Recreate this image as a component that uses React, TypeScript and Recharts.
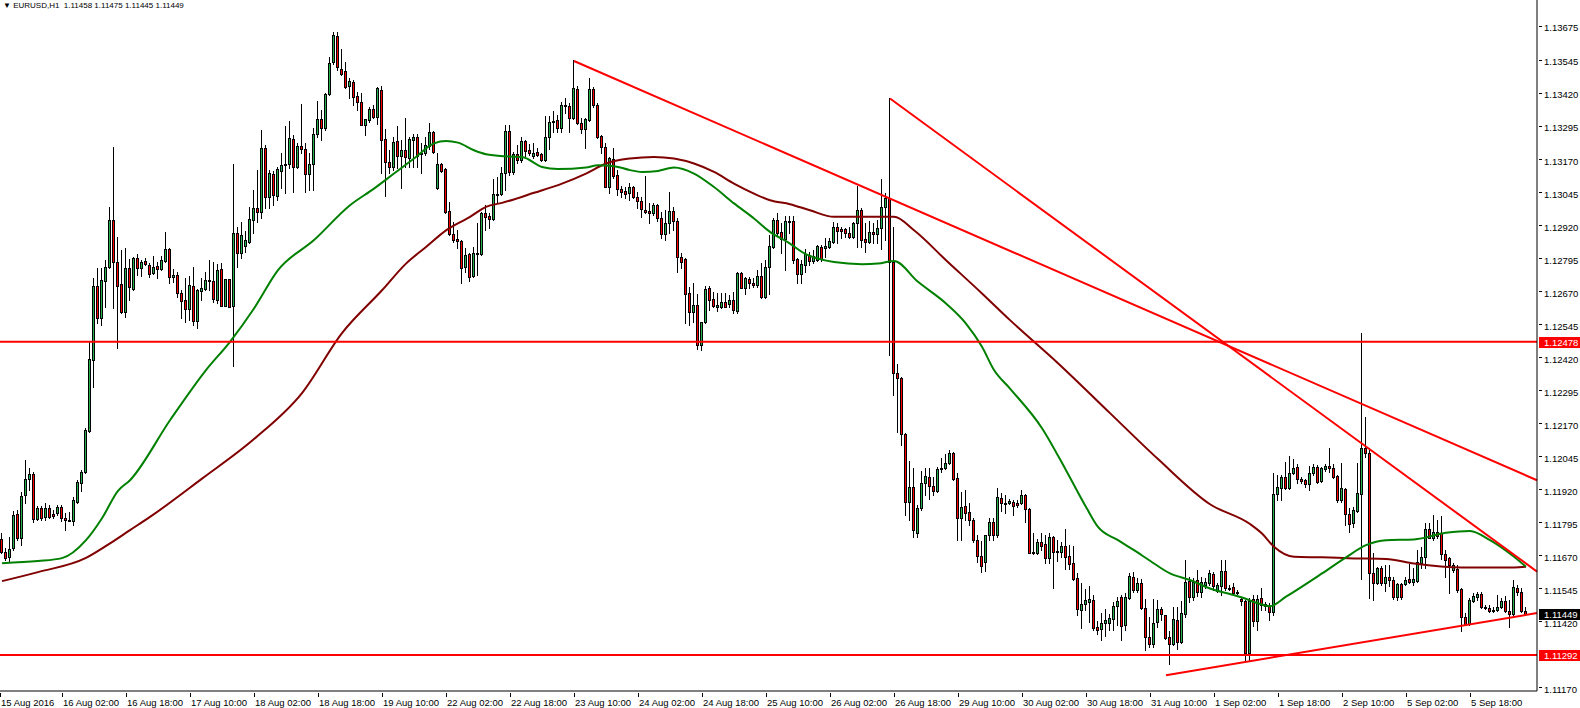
import React from "react";
import { ComposedChart, Bar, Line, XAxis, YAxis, ReferenceLine } from "recharts";

// hourly bars, first visible bar has index 1 (index 0 = 15 Aug 10:00)
// prices are stored in points above 1.10000
const FIRST_BAR = 1;

const OPEN = [
  1731,1681,1663,1697,1826,1735,1897,1958,1977,1807, 1849,1815,1849,1826,1830,1853,1811,1803,1801,1871,
  1943,1984,2139,2408,2688,2568,2707,2761,2938,2779, 2696,2590,2757,2677,2795,2757,2783,2768,2738,2764,
  2753,2783,2829,2723,2730,2662,2636,2602,2688,2556, 2670,2677,2711,2707,2636,2753,2615,2715,2613,2889,
  2814,2840,2855,2938,2984,2969,3211,3025,3113,3029, 3124,3150,3150,3245,3139,3218,3207,3113,3150,3264,
  3320,3286,3415,3536,3635,3510,3502,3446,3461,3408, 3385,3298,3317,3361,3329,3430,3245,3158,3139,3237,
  3181,3203,3173,3241,3252,3192,3192,3218,3271,3059, 3150,3131,2972,2886,2867,2859,2761,2810,2726,2814,
  2810,2965,2954,2942,3037,3037,3116,3275,3120,3188, 3165,3237,3203,3180,3196,3188,3165,3252,3313,3317,
  3286,3374,3370,3325,3434,3306,3283,3317,3434,3374, 3256,3215,3063,3169,3109,3056,3048,3040,3063,3025,
  3010,2976,2972,2965,2995,2946,2886,2927,2972,2935, 2798,2791,2662,2590,2617,2465,2552,2681,2640,2609,
  2609,2628,2620,2636,2594,2738,2683,2715,2700,2692, 2726,2647,2761,2836,2938,2893,2867,2935,2935,2791,
  2734,2768,2806,2783,2787,2836,2832,2836,2855,2912, 2904,2904,2889,2874,2927,2976,2867,2855,2893,2885,
  2908,2988,3022,2779,2359,2340,2128,1871,1927,1754, 1848,1943,1966,1931,1912,1999,1999,2018,2056,1962,
  1811,1856,1833,1803,1727,1666,1644,1746,1795,1746, 1886,1868,1868,1871,1868,1868,1897,1845,1682,1678,
  1720,1712,1659,1739,1686,1682,1705,1667,1640,1583, 1462,1485,1492,1500,1398,1390,1413,1413,1428,1477,
  1511,1405,1508,1587,1538,1564,1470,1360,1334,1417, 1466,1443,1360,1334,1424,1341,1447,1572,1511,1576,
  1530,1557,1564,1598,1534,1553,1610,1545,1549,1530, 1504,1496,1300,1504,1420,1508,1485,1477,1455,1901,
  1924,1966,1924,1981,2003,1958,1954,1939,1981,2003, 1950,1996,2007,1999,1969,1879,1920,1826,1792,1837,
  1901,2075,2056,1602,1564,1621,1564,1587,1576,1511, 1561,1561,1579,1568,1572,1640,1663,1769,1737,1758,
  1754,1674,1659,1614,1617,1542,1436,1409,1496,1511, 1523,1474,1472,1460,1462,1474,1496,1458,1447,1545,
  1530,1458,
];

const HIGH = [
  1754,1697,1739,1837,1841,1908,2030,2000,1984,1856, 1856,1868,1860,1841,1860,1860,1830,1833,1890,1954,
  1992,2151,2476,2719,2757,2757,2787,2988,3215,2874, 2825,2833,2791,2799,2810,2787,2795,2776,2802,2779,
  2802,2892,2833,2753,2742,2673,2719,2726,2761,2677, 2719,2742,2787,2779,2772,2776,2717,2717,3150,2912,
  2931,2897,2988,3052,3128,3279,3222,3128,3124,3139, 3192,3294,3313,3260,3230,3377,3230,3192,3286,3389,
  3355,3419,3555,3650,3650,3585,3536,3475,3468,3423, 3419,3322,3367,3374,3442,3446,3283,3203,3252,3294,
  3241,3325,3252,3264,3264,3230,3252,3306,3275,3192, 3154,3135,3006,2931,2900,2863,2832,2814,2836,2927,
  2969,2995,2965,3094,3101,3139,3298,3298,3196,3222, 3252,3241,3226,3230,3211,3192,3332,3332,3351,3336,
  3385,3400,3381,3544,3446,3325,3325,3476,3442,3381, 3260,3230,3177,3211,3128,3067,3063,3078,3067,3044,
  3025,3105,3003,3003,2999,2969,2976,3044,2988,2946, 2814,2795,2685,2700,2658,2553,2688,2688,2666,2662,
  2662,2662,2654,2666,2742,2742,2723,2723,2719,2749, 2776,2787,2882,2946,2965,2927,2954,2954,2954,2795,
  2787,2829,2817,2825,2844,2844,2871,2872,2931,2927, 2912,2908,2912,2931,3067,2984,2927,2935,2927,2938,
  3094,3040,3400,2912,2393,2344,2132,2026,1999,1860, 1988,1999,1999,1965,2003,2037,2052,2068,2060,1981,
  1908,1916,1868,1811,1746,1723,1708,1811,1811,1924, 1905,1897,1882,1879,1879,1916,1901,1848,1754,1731,
  1754,1746,1754,1741,1727,1720,1769,1708,1704,1602, 1564,1542,1553,1519,1420,1451,1466,1447,1492,1511,
  1519,1527,1602,1606,1583,1579,1504,1436,1504,1500, 1474,1445,1383,1474,1474,1496,1651,1587,1583,1614,
  1587,1583,1614,1606,1564,1651,1651,1557,1564,1538, 1511,1500,1508,1519,1519,1545,1492,1489,1981,1973,
  1973,2022,2045,2034,2015,1965,1958,2007,2015,2011, 2003,2015,2075,2015,1973,2018,1924,1848,1852,2018,
  2511,2193,2075,1678,1625,1629,1632,1632,1587,1564, 1564,1587,1636,1621,1689,1701,1792,1792,1822,1803,
  1818,1689,1663,1640,1632,1545,1451,1508,1527,1530, 1530,1481,1481,1474,1519,1508,1515,1500,1576,1557,
  1545,1475,
];

const LOW = [
  1678,1651,1647,1689,1727,1708,1868,1916,1795,1803, 1803,1803,1811,1811,1822,1799,1765,1799,1784,1868,
  1912,1981,2136,2307,2549,2541,2610,2757,2606,2454, 2587,2572,2636,2673,2730,2726,2768,2723,2734,2719,
  2749,2781,2700,2704,2647,2568,2553,2560,2541,2530, 2636,2675,2673,2628,2624,2613,2612,2609,2385,2761,
  2795,2817,2852,2889,2931,2946,2984,2984,2995,3014, 3059,3040,3135,3044,3135,3192,3044,3052,3052,3252,
  3241,3279,3411,3530,3506,3487,3438,3401,3374,3355, 3298,3260,3309,3325,3302,3116,3029,3116,3128,3135,
  3059,3139,3139,3139,3139,3116,3184,3207,3192,3058, 3120,2965,2884,2855,2832,2700,2742,2707,2722,2730,
  2806,2900,2908,2940,3003,3033,3052,3109,3113,3154, 3158,3173,3184,3173,3181,3162,3162,3207,3271,3271,
  3271,3343,3271,3323,3302,3268,3211,3313,3366,3249, 3192,3063,3040,3097,3033,3025,3021,3014,3021,2984,
  2950,2965,2927,2957,2935,2870,2863,2889,2900,2742, 2757,2549,2541,2553,2450,2446,2549,2598,2609,2594,
  2605,2609,2609,2587,2587,2681,2658,2681,2685,2685, 2643,2645,2658,2832,2882,2814,2749,2889,2776,2700,
  2700,2742,2768,2776,2783,2783,2800,2834,2851,2851, 2870,2874,2872,2872,2836,2836,2817,2851,2851,2851,
  2829,2863,2427,2276,2136,2087,1822,1803,1739,1739, 1841,1897,1882,1897,1910,1984,1995,2015,1954,1727,
  1727,1803,1784,1720,1644,1606,1610,1727,1727,1739, 1837,1830,1864,1822,1852,1864,1795,1678,1674,1676,
  1689,1640,1640,1545,1648,1663,1618,1618,1576,1443, 1394,1462,1417,1386,1370,1349,1364,1386,1386,1405,
  1349,1386,1504,1530,1530,1466,1312,1322,1322,1398, 1424,1353,1258,1330,1315,1339,1436,1492,1500,1515,
  1511,1545,1557,1538,1530,1519,1538,1538,1523,1523, 1481,1273,1273,1401,1386,1462,1462,1424,1443,1879,
  1879,1920,1920,1978,1943,1943,1928,1916,1973,1943, 1946,1990,1984,1962,1871,1871,1784,1757,1776,1833,
  1580,2041,1508,1500,1562,1557,1534,1553,1504,1500, 1504,1557,1564,1557,1570,1621,1621,1735,1727,1735,
  1655,1587,1527,1606,1530,1383,1405,1405,1492,1500, 1470,1468,1455,1455,1458,1470,1455,1398,1440,1519,
  1455,1445,
];

const CLOSE = [
  1682,1659,1693,1822,1735,1893,1958,1977,1807,1849, 1811,1849,1815,1818,1853,1811,1803,1801,1879,1946,
  1984,2143,2412,2688,2568,2711,2761,2938,2779,2688, 2590,2757,2685,2795,2757,2779,2772,2734,2761,2753,
  2787,2829,2723,2730,2662,2632,2602,2692,2556,2673, 2681,2711,2707,2640,2749,2615,2715,2611,2889,2814,
  2882,2863,2942,2984,2969,3211,3025,3116,3033,3131, 3146,3146,3249,3139,3218,3207,3113,3150,3264,3320,
  3286,3415,3535,3639,3518,3492,3442,3465,3404,3385, 3300,3320,3361,3329,3438,3241,3158,3139,3234,3181,
  3203,3177,3245,3252,3181,3188,3222,3271,3196,3150, 3124,2969,2886,2863,2859,2757,2806,2723,2814,2810,
  2965,2950,2942,3037,3035,3116,3275,3120,3188,3165, 3237,3199,3192,3192,3184,3165,3252,3309,3311,3286,
  3374,3371,3325,3438,3306,3283,3321,3434,3374,3252, 3215,3065,3173,3105,3056,3044,3037,3063,3025,3010,
  2980,2969,2967,2995,2946,2886,2927,2972,2935,2798, 2779,2658,2590,2617,2465,2552,2677,2636,2613,2617,
  2628,2611,2636,2598,2738,2683,2719,2700,2692,2726, 2647,2761,2840,2938,2889,2867,2935,2931,2787,2734,
  2772,2810,2783,2802,2840,2790,2840,2859,2912,2897, 2899,2889,2874,2929,2976,2863,2855,2893,2885,2908,
  2988,3022,2779,2359,2340,2128,1871,1927,1765,1848, 1943,1969,1931,1912,1995,1995,2018,2056,1958,1811,
  1853,1830,1803,1727,1666,1629,1746,1795,1746,1890, 1867,1864,1875,1856,1860,1897,1845,1680,1678,1720,
  1705,1659,1739,1684,1682,1705,1663,1636,1580,1466, 1485,1500,1504,1394,1386,1413,1424,1432,1477,1496,
  1401,1511,1591,1538,1564,1470,1360,1334,1413,1466, 1447,1356,1334,1428,1341,1451,1568,1511,1568,1530,
  1568,1568,1602,1553,1557,1610,1545,1543,1526,1528, 1496,1300,1496,1420,1504,1481,1477,1455,1901,1927,
  1966,1924,1981,1999,1958,1952,1939,1981,2003,1946, 1999,2007,1999,1966,1879,1924,1826,1788,1841,1905,
  2075,2056,1602,1564,1621,1564,1587,1576,1511,1561, 1511,1576,1568,1579,1644,1663,1769,1737,1758,1741,
  1674,1651,1632,1632,1538,1436,1409,1500,1515,1523, 1474,1472,1458,1462,1474,1496,1458,1447,1549,1530,
  1458,1449,
];

// moving averages, read at a subset of bars (points above 1.10000)
const FAST_MA_BARS = [1,10,16,22,26,30,33,43,52,58,64,70,79,88,94,99,104,109,112,115,119,122,127,131,136,140,147,150,154,158,161,165,169,174,179,184,189,193,198,201,209,216,220,224,230,237,242,246,249,253,261,267,272,275,280,284,288,293,298,303,308,311,315,318,322,331,337,342,347,354,362,368,373,379,382];
const FAST_MA = [1640,1648,1659,1727,1810,1914,1954,2181,2371,2478,2604,2749,2863,2995,3058,3115,3172,3229,3238,3232,3203,3188,3180,3178,3140,3132,3138,3146,3143,3128,3121,3125,3138,3115,3064,3002,2945,2894,2850,2818,2780,2772,2774,2784,2705,2623,2547,2459,2371,2301,2151,1992,1853,1777,1727,1689,1649,1601,1576,1544,1523,1510,1488,1477,1513,1601,1662,1708,1727,1730,1755,1762,1727,1664,1626];

const SLOW_MA_BARS = [1,10,22,28,33,38,51,64,76,86,96,102,107,112,118,122,126,134,141,147,152,158,164,169,174,179,184,189,193,198,203,209,218,224,229,237,246,253,265,278,290,303,313,316,319,324,331,339,347,354,366,379,382];
const SLOW_MA = [1572,1606,1660,1715,1765,1815,1960,2110,2284,2511,2673,2774,2837,2900,2951,2989,3004,3042,3077,3115,3153,3172,3178,3172,3153,3121,3077,3039,3014,2999,2976,2951,2951,2951,2900,2787,2661,2560,2397,2208,2034,1863,1788,1752,1702,1664,1662,1658,1656,1639,1624,1624,1626];

const TIME_LABELS = [
  "15 Aug 2016", "16 Aug 02:00", "16 Aug 18:00", "17 Aug 10:00", "18 Aug 02:00", "18 Aug 18:00",
  "19 Aug 10:00", "22 Aug 02:00", "22 Aug 18:00", "23 Aug 10:00", "24 Aug 02:00", "24 Aug 18:00",
  "25 Aug 10:00", "26 Aug 02:00", "26 Aug 18:00", "29 Aug 10:00", "30 Aug 02:00", "30 Aug 18:00",
  "31 Aug 10:00", "1 Sep 02:00", "1 Sep 18:00", "2 Sep 10:00", "5 Sep 02:00", "5 Sep 18:00",
];
const LABEL_STEP = 16;

const PRICE_TICKS = [
  1.13675, 1.13545, 1.1342, 1.13295, 1.1317, 1.13045, 1.1292, 1.12795, 1.1267, 1.12545, 1.1242,
  1.12295, 1.1217, 1.12045, 1.1192, 1.11795, 1.1167, 1.11545, 1.1142, 1.1117,
];
const LEVELS = [1.12478, 1.11292];

// trend lines: [bar, price] -> [bar, price]
const TRENDS = [
  [[144, 1.13541], [384.75, 1.11954]],
  [[223, 1.13399], [384.75, 1.11608]],
  [[292, 1.11216], [384.75, 1.11451]],
];

const pt = (v: number) => +(1.1 + v / 100000).toFixed(5);

const data: any[] = OPEN.map((o, k) => ({
  i: FIRST_BAR + k,
  o: pt(o),
  h: pt(HIGH[k]),
  l: pt(LOW[k]),
  c: pt(CLOSE[k]),
  fast: null,
  slow: null,
}));
FAST_MA_BARS.forEach((b, k) => (data[b - FIRST_BAR].fast = pt(FAST_MA[k])));
SLOW_MA_BARS.forEach((b, k) => (data[b - FIRST_BAR].slow = pt(SLOW_MA[k])));

const last = data[data.length - 1];
const LAST_PRICE = last.c;

const FONT = '"Liberation Sans", Arial, sans-serif';
const AXIS_FONT_SIZE = 9.5;

function Candle(props: any) {
  const { x, y, width, height, payload } = props;
  if (!payload || !isFinite(y)) return null;
  const top = Math.min(y, y + height);
  const bot = Math.max(y, y + height);
  const { o, h, l, c } = payload;
  const span = h - l || 1e-9;
  const toY = (p: number) => top + ((h - p) / span) * (bot - top);
  const cx = Math.floor(x + width / 2);
  const up = c > o;
  const bTop = Math.round(toY(Math.max(o, c)));
  const bBot = Math.round(toY(Math.min(o, c)));
  return (
    <g shapeRendering="crispEdges">
      <line x1={cx + 0.5} x2={cx + 0.5} y1={Math.round(top)} y2={Math.round(bot) + 1} stroke="#000" strokeWidth={1} />
      {bBot - bTop >= 1 ? (
        <rect x={cx - 0.5} y={bTop + 0.5} width={2} height={bBot - bTop} fill={up ? "#22b14c" : "#ff0000"} stroke="#000" strokeWidth={1} />
      ) : (
        <line x1={cx - 1} x2={cx + 2} y1={bTop + 0.5} y2={bTop + 0.5} stroke="#000" strokeWidth={1} />
      )}
    </g>
  );
}

function TimeTick(props: any) {
  const { x, y, payload } = props;
  const k = Math.round(payload.value / LABEL_STEP);
  const tx = Math.round(x);
  return (
    <g>
      <line x1={tx + 0.5} x2={tx + 0.5} y1={y} y2={y + 4} stroke="#000" shapeRendering="crispEdges" />
      <text x={Math.max(tx + 1, 0)} y={y + 13} fontSize={AXIS_FONT_SIZE} fontFamily={FONT} fill="#000">
        {TIME_LABELS[k]}
      </text>
    </g>
  );
}

function PriceTick(props: any) {
  const { x, y, payload } = props;
  const v = payload.value;
  const special = LEVELS.includes(v) || v === LAST_PRICE;
  if (special) {
    const bg = v === LAST_PRICE ? "#000" : "#ff0000";
    return (
      <g>
        <rect x={x} y={Math.round(y) - 5} width={43} height={11} fill={bg} />
        <text x={x + 5} y={Math.round(y) + 4} fontSize={AXIS_FONT_SIZE} fontFamily={FONT} fill="#fff">
          {v.toFixed(5)}
        </text>
      </g>
    );
  }
  return (
    <g>
      <line x1={x} x2={x + 3} y1={Math.round(y) + 0.5} y2={Math.round(y) + 0.5} stroke="#000" shapeRendering="crispEdges" />
      <text x={x + 5} y={y + 5.5} fontSize={AXIS_FONT_SIZE} fontFamily={FONT} fill="#000">
        {v.toFixed(5)}
      </text>
    </g>
  );
}

export default function App() {
  const xTicks = TIME_LABELS.map((_, k) => Math.max(k * LABEL_STEP, 0.5));
  const yTicks = [...PRICE_TICKS, ...LEVELS, LAST_PRICE];
  const fmt = (p: number) => p.toFixed(5);
  return (
    <div style={{ position: "absolute", left: 0, top: 0, width: 1580, height: 708, background: "#fff" }}>
      <ComposedChart width={1580} height={708} data={data} margin={{ top: 0, right: 0, bottom: 0, left: 0 }}>
        <XAxis
          dataKey="i"
          type="number"
          domain={[0.5, 384.75]}
          allowDataOverflow
          ticks={xTicks}
          interval={0}
          height={17}
          tickSize={0}
          tickLine={false}
          axisLine={{ stroke: "#000" }}
          tick={<TimeTick />}
        />
        <YAxis
          orientation="right"
          type="number"
          domain={[1.11156, 1.13772]}
          allowDataOverflow
          ticks={yTicks}
          interval={0}
          width={43}
          tickSize={0}
          tickLine={false}
          axisLine={{ stroke: "#000" }}
          tick={<PriceTick />}
        />
        <Bar dataKey={(d: any) => [d.l, d.h]} barSize={4} shape={<Candle />} isAnimationActive={false} />
        <Line type="monotone" dataKey="slow" stroke="#800000" strokeWidth={2} dot={false} connectNulls isAnimationActive={false} activeDot={false} />
        <Line type="monotone" dataKey="fast" stroke="#008000" strokeWidth={2} dot={false} connectNulls isAnimationActive={false} activeDot={false} />
        {LEVELS.map((lv) => (
          <ReferenceLine key={lv} y={lv} stroke="#ff0000" strokeWidth={2} />
        ))}
        {TRENDS.map((t, k) => (
          <ReferenceLine
            key={k}
            segment={[{ x: t[0][0], y: t[0][1] }, { x: t[1][0], y: t[1][1] }]}
            stroke="#ff0000"
            strokeWidth={2}
            ifOverflow="visible"
          />
        ))}
      </ComposedChart>
      <div style={{ position: "absolute", left: 3, top: 0, fontFamily: FONT, fontSize: 8, color: "#000", whiteSpace: "pre", lineHeight: "11px" }}>
        {"\u25BC EURUSD,H1  " + [last.o, last.h, last.l, last.c].map(fmt).join(" ")}
      </div>
    </div>
  );
}
